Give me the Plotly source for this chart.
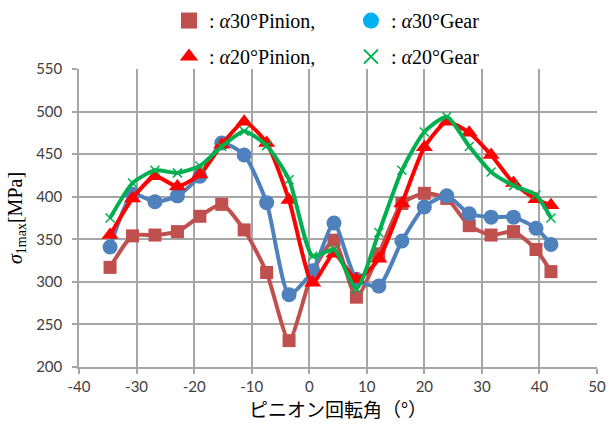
import plotly.graph_objects as go

# Pinion rotation angle (deg)
angle = [-34.6, -30.7, -26.8, -22.9, -19.0, -15.2, -11.3, -7.4, -3.5, 0.6, 4.3,
         8.2, 12.1, 16.1, 20.0, 23.9, 27.8, 31.6, 35.5, 39.4, 42.0]

a30_pinion = [317, 354, 355, 359, 377, 391, 361, 311, 231, 312, 349,
              282, 333, 392, 404, 398, 366, 355, 359, 338, 312]
a30_gear = [341, 403, 394, 401, 424, 463, 449, 393, 285, 313, 369,
            303, 295, 348, 388, 401, 380, 376, 376, 363, 344]
a20_pinion = [355, 398, 424, 412, 426, 461, 488, 463, 396, 299, 333,
              303, 327, 392, 458, 488, 475, 449, 416, 397, 390]
a20_gear = [375, 416, 431, 428, 436, 459, 477, 460, 420, 330, 338,
            292, 358, 431, 476, 494, 459, 429, 413, 402, 375]

x_ticks = [-40, -30, -20, -10, 0, 10, 20, 30, 40, 50]
y_ticks = [200, 250, 300, 350, 400, 450, 500, 550]

names = [": <i>α</i>30°Pinion,", ": <i>α</i>30°Gear",
         ": <i>α</i>20°Pinion,", ": <i>α</i>20°Gear"]

fig = go.Figure()

# data series (Excel drawing order)
fig.add_trace(go.Scatter(x=angle, y=a30_pinion, mode="lines+markers",
                         line=dict(color="#C0504D", width=4, shape="spline", smoothing=0.6),
                         marker=dict(symbol="square", size=13, color="#C0504D"),
                         showlegend=False))
fig.add_trace(go.Scatter(x=angle, y=a30_gear, mode="lines+markers",
                         line=dict(color="#4F81BD", width=4, shape="spline", smoothing=0.6),
                         marker=dict(symbol="circle", size=15, color="#4F81BD"),
                         showlegend=False))
fig.add_trace(go.Scatter(x=angle, y=a20_pinion, mode="lines+markers",
                         line=dict(color="#FF0000", width=4, shape="spline", smoothing=0.6),
                         marker=dict(symbol="triangle-up", size=15, color="#FF0000"),
                         showlegend=False))
fig.add_trace(go.Scatter(x=angle, y=a20_gear, mode="lines+markers",
                         line=dict(color="#00B050", width=4, shape="spline", smoothing=0.6),
                         marker=dict(symbol="x-thin", size=9, line=dict(color="#00B050", width=1.5)),
                         showlegend=False))

# legend entries
fig.add_trace(go.Scatter(x=[None], y=[None], mode="markers", name=names[0],
                         marker=dict(symbol="square", size=18, color="#C0504D"), legend="legend"))
fig.add_trace(go.Scatter(x=[None], y=[None], mode="markers", name=names[1],
                         marker=dict(symbol="circle", size=18, color="#00B0F0"), legend="legend"))
fig.add_trace(go.Scatter(x=[None], y=[None], mode="markers", name=names[2],
                         marker=dict(symbol="triangle-up", size=18, color="#FF0000"), legend="legend2"))
fig.add_trace(go.Scatter(x=[None], y=[None], mode="markers", name=names[3],
                         marker=dict(symbol="x-thin", size=14, line=dict(color="#00B050", width=2)),
                         legend="legend2"))

grid = "#A6A6A6"
tickfont = dict(family="Lato, 'Open Sans', sans-serif", size=15, color="#404040")

leg_common = dict(orientation="h", xanchor="left", yanchor="top",
                  entrywidth=137, entrywidthmode="pixels",
                  font=dict(family="Liberation Serif, serif", size=20, color="#000000"),
                  bgcolor="rgba(0,0,0,0)", borderwidth=0, traceorder="normal")

fig.update_layout(
    width=607, height=425,
    margin=dict(l=79, r=10, t=69, b=58, autoexpand=False),
    paper_bgcolor="white", plot_bgcolor="white",
    legend=dict(x=0.1737, y=1.228, **leg_common),
    legend2=dict(x=0.1737, y=1.107, **leg_common),
    xaxis=dict(range=[-40, 50], tickvals=x_ticks, ticktext=[str(v) for v in x_ticks],
               showgrid=True, gridcolor=grid, gridwidth=1.5,
               showline=True, linecolor=grid, linewidth=1.5,
               ticks="outside", ticklen=5, tickcolor=grid, tickwidth=1.5,
               zeroline=False, tickfont=tickfont,
               title=dict(text="ピニオン回転角（°）",
                          font=dict(family="Noto Sans CJK JP", size=19, color="#000000"),
                          standoff=6)),
    yaxis=dict(range=[200, 550], tickvals=y_ticks, ticktext=[str(v) for v in y_ticks],
               showgrid=True, gridcolor=grid, gridwidth=1.5,
               showline=True, linecolor=grid, linewidth=1.5,
               ticks="outside", ticklen=5, tickcolor=grid, tickwidth=1.5,
               ticklabelstandoff=7,
               zeroline=False, tickfont=tickfont,
               title=dict(text="<i>σ</i><sub>1max</sub>[MPa]",
                          font=dict(family="Liberation Serif, serif", size=20, color="#000000"),
                          standoff=8)),
)

fig.write_html("out.html", config={"displayModeBar": False},
               post_script="document.body.style.margin='0';document.body.style.padding='0';")
